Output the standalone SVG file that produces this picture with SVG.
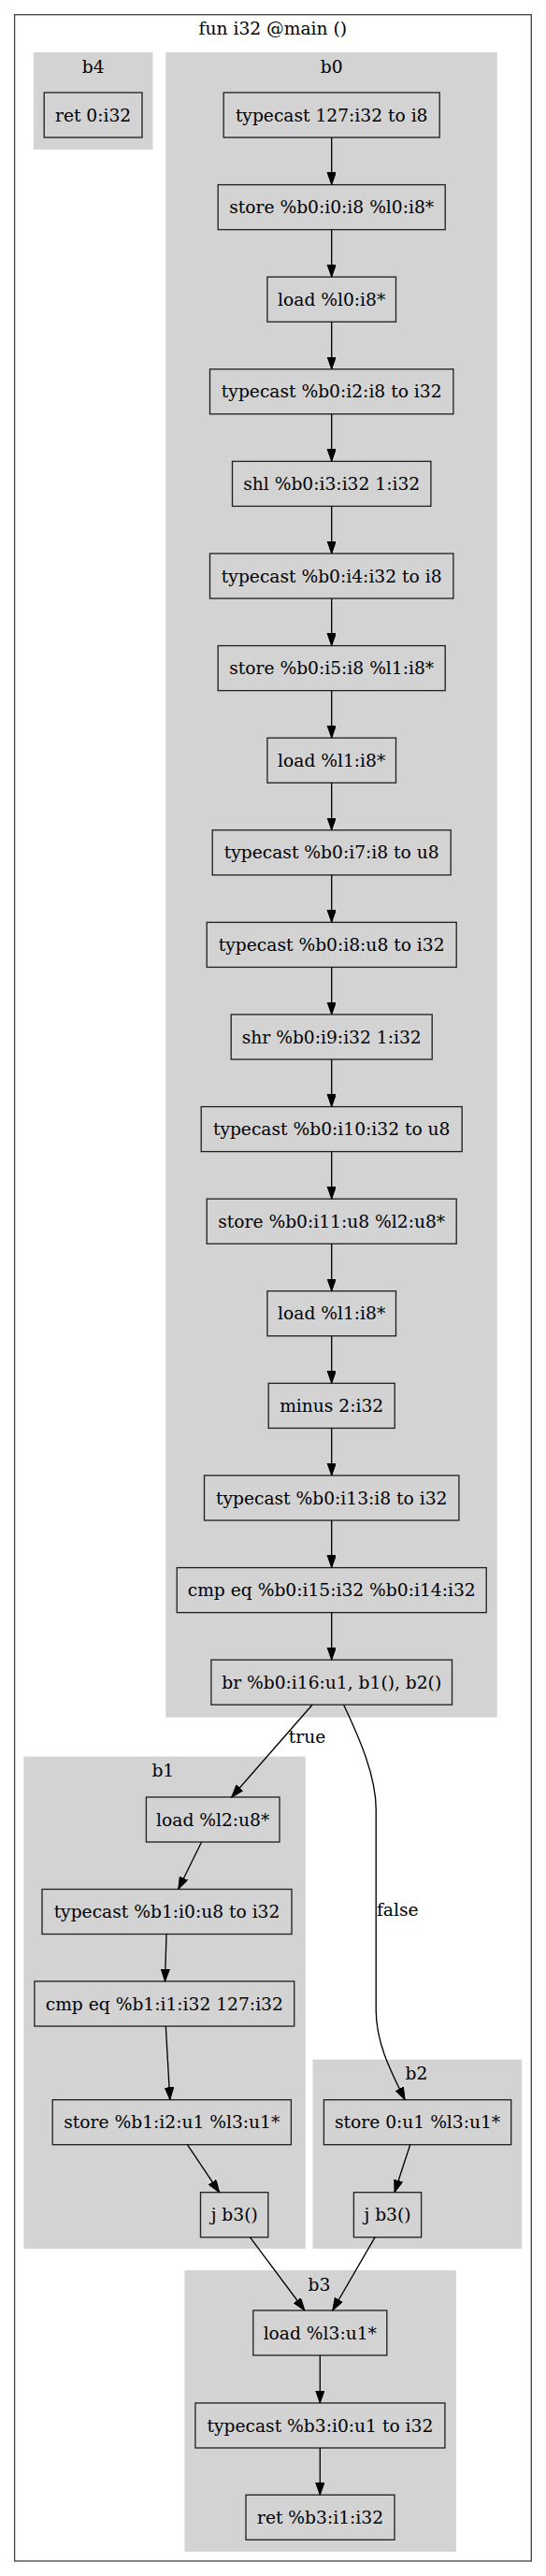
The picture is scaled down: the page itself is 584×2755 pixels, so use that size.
<svg xmlns="http://www.w3.org/2000/svg" width="584" height="2755" viewBox="0 0 584 2755">
<style>
text{font-family:"DejaVu Serif","Liberation Serif",serif;font-size:18.67px;fill:#000;text-anchor:middle}
.cl{fill:#d3d3d3;stroke:#d3d3d3;stroke-width:1.33}
.nd rect{fill:#d3d3d3;stroke:#222;stroke-width:1.33}
.e{fill:none;stroke:#000;stroke-width:1.33;marker-end:url(#ah)}
</style>
<defs>
<marker id="ah" markerUnits="userSpaceOnUse" markerWidth="14" markerHeight="10" refX="13.3" refY="4.67" orient="auto">
<path d="M0,0 L13.3,4.67 L0,9.33 z" fill="#000" stroke="#000" stroke-width="1"/>
</marker>
</defs>
<rect x="0" y="0" width="584" height="2755" fill="#fff"/>
<g id="cluster_main">
<rect x="15.6" y="15.7" width="552.7" height="2723.3" fill="#fff" stroke="#444" stroke-width="1.33"/>
<text x="291.8" y="37">fun i32 @main ()</text>
</g>
<g id="cluster_b4"><rect class="cl" x="36.4" y="56.7" width="126.4" height="102.6"/><text x="99.6" y="78">b4</text></g>
<g id="cluster_b0"><rect class="cl" x="178" y="56.7" width="353" height="1779.3"/><text x="354.7" y="78">b0</text></g>
<g id="cluster_b1"><rect class="cl" x="26" y="1879.3" width="300" height="525"/><text x="174.3" y="1900.3">b1</text></g>
<g id="cluster_b2"><rect class="cl" x="335.2" y="2203.3" width="222.3" height="201"/><text x="445.4" y="2224.3">b2</text></g>
<g id="cluster_b3"><rect class="cl" x="198.1" y="2428.7" width="289.1" height="299.6"/><text x="341.5" y="2450">b3</text></g>

<g id="b4_n0" class="nd"><rect x="47.2" y="99" width="104.8" height="48"/><text x="99.6" y="129.5">ret 0:i32</text></g>

<g id="b0_n0" class="nd"><rect x="239.2" y="99" width="231" height="48"/><text x="354.7" y="129.5">typecast 127:i32 to i8</text></g>
<g id="b0_n1" class="nd"><rect x="233.2" y="197.6" width="243" height="48"/><text x="354.7" y="228.1">store %b0:i0:i8 %l0:i8*</text></g>
<g id="b0_n2" class="nd"><rect x="285.9" y="296.2" width="137.6" height="48"/><text x="354.7" y="326.7">load %l0:i8*</text></g>
<g id="b0_n3" class="nd"><rect x="224.5" y="394.8" width="260.4" height="48"/><text x="354.7" y="425.3">typecast %b0:i2:i8 to i32</text></g>
<g id="b0_n4" class="nd"><rect x="248.5" y="493.4" width="212.4" height="48"/><text x="354.7" y="523.9">shl %b0:i3:i32 1:i32</text></g>
<g id="b0_n5" class="nd"><rect x="224.5" y="592" width="260.4" height="48"/><text x="354.7" y="622.5">typecast %b0:i4:i32 to i8</text></g>
<g id="b0_n6" class="nd"><rect x="233.2" y="690.6" width="243" height="48"/><text x="354.7" y="721.1">store %b0:i5:i8 %l1:i8*</text></g>
<g id="b0_n7" class="nd"><rect x="285.9" y="789.2" width="137.6" height="48"/><text x="354.7" y="819.7">load %l1:i8*</text></g>
<g id="b0_n8" class="nd"><rect x="227.2" y="887.8" width="255" height="48"/><text x="354.7" y="918.3">typecast %b0:i7:i8 to u8</text></g>
<g id="b0_n9" class="nd"><rect x="221.2" y="986.4" width="267" height="48"/><text x="354.7" y="1016.9">typecast %b0:i8:u8 to i32</text></g>
<g id="b0_n10" class="nd"><rect x="247.2" y="1085" width="215" height="48"/><text x="354.7" y="1115.5">shr %b0:i9:i32 1:i32</text></g>
<g id="b0_n11" class="nd"><rect x="215.2" y="1183.6" width="279" height="48"/><text x="354.7" y="1214.1">typecast %b0:i10:i32 to u8</text></g>
<g id="b0_n12" class="nd"><rect x="221.2" y="1282.2" width="267" height="48"/><text x="354.7" y="1312.7">store %b0:i11:u8 %l2:u8*</text></g>
<g id="b0_n13" class="nd"><rect x="285.9" y="1380.8" width="137.6" height="48"/><text x="354.7" y="1411.3">load %l1:i8*</text></g>
<g id="b0_n14" class="nd"><rect x="287.2" y="1479.4" width="135" height="48"/><text x="354.7" y="1509.9">minus 2:i32</text></g>
<g id="b0_n15" class="nd"><rect x="218.5" y="1578" width="272.4" height="48"/><text x="354.7" y="1608.5">typecast %b0:i13:i8 to i32</text></g>
<g id="b0_n16" class="nd"><rect x="189.2" y="1676.6" width="331" height="48"/><text x="354.7" y="1707.1">cmp eq %b0:i15:i32 %b0:i14:i32</text></g>
<g id="b0_n17" class="nd"><rect x="225.9" y="1775.2" width="257.6" height="48"/><text x="354.7" y="1805.7">br %b0:i16:u1, b1(), b2()</text></g>

<g id="b1_n0" class="nd"><rect x="156.4" y="1922" width="142.6" height="48"/><text x="227.7" y="1952.5">load %l2:u8*</text></g>
<g id="b1_n1" class="nd"><rect x="45" y="2020.5" width="267" height="48"/><text x="178.5" y="2051">typecast %b1:i0:u8 to i32</text></g>
<g id="b1_n2" class="nd"><rect x="36.9" y="2119" width="277.8" height="48"/><text x="175.8" y="2149.5">cmp eq %b1:i1:i32 127:i32</text></g>
<g id="b1_n3" class="nd"><rect x="56.2" y="2245.7" width="255.2" height="48"/><text x="183.8" y="2276.2">store %b1:i2:u1 %l3:u1*</text></g>
<g id="b1_n4" class="nd"><rect x="214.5" y="2344.7" width="72.3" height="48"/><text x="250.7" y="2375.2">j b3()</text></g>

<g id="b2_n0" class="nd"><rect x="346.4" y="2245.7" width="200.3" height="48"/><text x="446.6" y="2276.2">store 0:u1 %l3:u1*</text></g>
<g id="b2_n1" class="nd"><rect x="378.4" y="2344.7" width="72.2" height="48"/><text x="414.5" y="2375.2">j b3()</text></g>

<g id="b3_n0" class="nd"><rect x="270.8" y="2471" width="143" height="48"/><text x="342.3" y="2501.5">load %l3:u1*</text></g>
<g id="b3_n1" class="nd"><rect x="208.9" y="2570" width="267" height="48"/><text x="342.4" y="2600.5">typecast %b3:i0:u1 to i32</text></g>
<g id="b3_n2" class="nd"><rect x="263" y="2668.3" width="159" height="48"/><text x="342.5" y="2698.8">ret %b3:i1:i32</text></g>

<g id="edges">
<path class="e" d="M354.7,147 L354.7,197.6"/>
<path class="e" d="M354.7,245.6 L354.7,296.2"/>
<path class="e" d="M354.7,344.2 L354.7,394.8"/>
<path class="e" d="M354.7,442.8 L354.7,493.4"/>
<path class="e" d="M354.7,541.4 L354.7,592"/>
<path class="e" d="M354.7,640 L354.7,690.6"/>
<path class="e" d="M354.7,738.6 L354.7,789.2"/>
<path class="e" d="M354.7,837.2 L354.7,887.8"/>
<path class="e" d="M354.7,935.8 L354.7,986.4"/>
<path class="e" d="M354.7,1034.4 L354.7,1085"/>
<path class="e" d="M354.7,1133 L354.7,1183.6"/>
<path class="e" d="M354.7,1231.6 L354.7,1282.2"/>
<path class="e" d="M354.7,1330.2 L354.7,1380.8"/>
<path class="e" d="M354.7,1428.8 L354.7,1479.4"/>
<path class="e" d="M354.7,1527.4 L354.7,1578"/>
<path class="e" d="M354.7,1626 L354.7,1676.6"/>
<path class="e" d="M354.7,1724.6 L354.7,1775.2"/>
<path class="e" d="M334,1823.2 L247.7,1922"/>
<text x="328.5" y="1864">true</text>
<path class="e" d="M367.6,1823.2 C385,1860 402.2,1900 402.2,1935 L402.2,2150 C402.2,2185 418,2215 433.1,2245.7"/>
<text x="425.2" y="2049">false</text>
<path class="e" d="M215.6,1970 L190.7,2020.5"/>
<path class="e" d="M178,2068.5 L176.5,2119"/>
<path class="e" d="M177.3,2167 L181.8,2245.7"/>
<path class="e" d="M200.4,2293.7 L234.6,2344.7"/>
<path class="e" d="M438.7,2293.7 L422,2344.7"/>
<path class="e" d="M267.4,2392.7 L325.9,2471"/>
<path class="e" d="M401.1,2392.7 L355.7,2471"/>
<path class="e" d="M342.3,2519 L342.3,2570"/>
<path class="e" d="M342.3,2618 L342.3,2668.3"/>
</g>
</svg>
